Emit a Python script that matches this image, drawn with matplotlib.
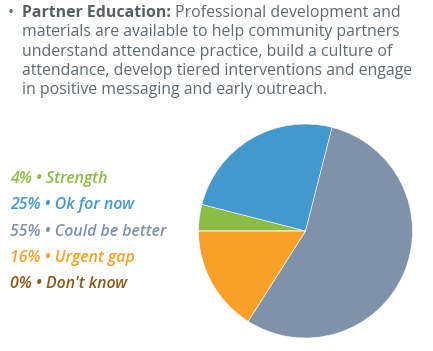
import matplotlib.pyplot as plt

# data
labels = ["Strength", "Ok for now", "Could be better", "Urgent gap", "Don't know"]
shares = [4, 25, 55, 16, 0]
colors = ["#8BBD45", "#4398CE", "#8092AA", "#F7A02A", "#8A5A1C"]

title_bold = "Partner Education:"
title_lines = [
    " Professional development and",
    "materials are available to help community partners",
    "understand attendance practice, build a culture of",
    "attendance, develop tiered interventions and engage",
    "in positive messaging and early outreach.",
]

plt.rcParams['font.family'] = ['Open Sans', 'DejaVu Sans']
W, H = 433, 351
fig = plt.figure(figsize=(W / 100, H / 100), dpi=100)
txt_col = "#5E6A72"
fs = 11.4

def fy(py):
    return 1 - py / H

# bullet paragraph
fig.text(8 / W, fy(17), "\u2022", fontsize=fs, color=txt_col, va='baseline')
tb = fig.text(22 / W, fy(17), title_bold, fontsize=fs, color="#555F66",
              fontweight='bold', va='baseline')
fig.canvas.draw()
bb = tb.get_window_extent()
fig.text(bb.x1 / W, fy(17), title_lines[0], fontsize=fs, color=txt_col, va='baseline')
for i, line in enumerate(title_lines[1:]):
    fig.text(22 / W, fy(17 + 19.3 * (i + 1)), line, fontsize=fs, color=txt_col,
             va='baseline')

# legend-like labels
for i, (lab, v, c) in enumerate(zip(labels, shares, colors)):
    fig.text(10 / W, fy(179 + 26.3 * i), f"{v}% \u2022 {lab}", fontsize=11.4,
             color=c, style='italic', fontweight='semibold', va='center')

# pie
cx, cy, r = 305.5, 231, 107
ax = fig.add_axes([(cx - r) / W, (H - cy - r) / H, 2 * r / W, 2 * r / H])
ax.pie(shares, colors=colors, startangle=180, counterclock=False,
       wedgeprops=dict(linewidth=0.4, edgecolor='white'))
ax.set_xlim(-1, 1)
ax.set_ylim(-1, 1)
ax.set_aspect('auto')
ax.axis('off')

fig.savefig("out.png", dpi=100)
